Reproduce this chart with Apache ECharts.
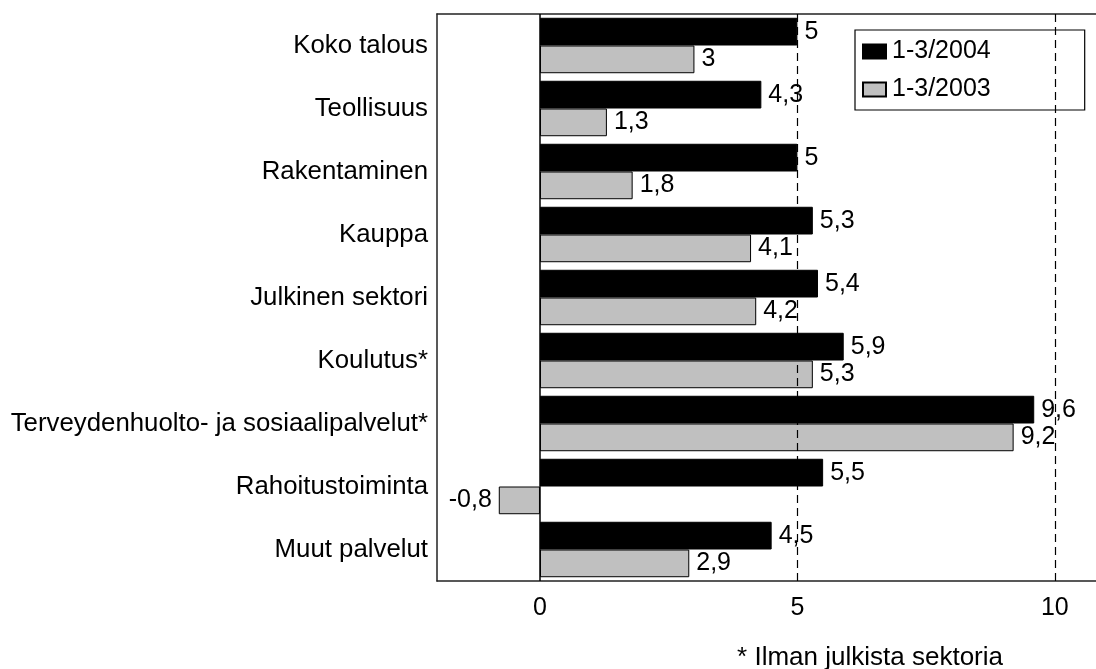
<!DOCTYPE html>
<html>
<head>
<meta charset="utf-8">
<script src="https://cdn.jsdelivr.net/npm/echarts@6/dist/echarts.min.js"></script>
<style>
  html, body { margin: 0; padding: 0; background: #fff; }
  #chart { width: 1096px; height: 669px; }
</style>
</head>
<body>
<div id="chart"></div>
<script>
// toimialat ylhäältä alas
const categories = [
  "Koko talous",
  "Teollisuus",
  "Rakentaminen",
  "Kauppa",
  "Julkinen sektori",
  "Koulutus*",
  "Terveydenhuolto- ja sosiaalipalvelut*",
  "Rahoitustoiminta",
  "Muut palvelut",
];
const values2004 = [5, 4.3, 5, 5.3, 5.4, 5.9, 9.6, 5.5, 4.5];
const values2003 = [3, 1.3, 1.8, 4.1, 4.2, 5.3, 9.2, -0.8, 2.9];
const tickValues = [0, 5, 10];
const dashedLines = [5, 10];
const footnote = "* Ilman julkista sektoria";

const font = "Liberation Sans, Arial, sans-serif";

function fmt(v) {
  return String(v).replace(".", ",");
}

// negatiivinen arvo: label vasemmalle
function toData(arr) {
  return arr.map((v) =>
    v < 0 ? { value: v, label: { position: "left" } } : v
  );
}

const chart = echarts.init(document.getElementById("chart"));

const barLabel = {
  show: true,
  position: "right",
  distance: 7,
  color: "#000",
  fontSize: 25,
  fontFamily: font,
  formatter: (p) => fmt(p.value),
};

const frameLine = { show: true, onZero: false, lineStyle: { color: "#222", width: 1.5 } };

const option = {
  animation: false,
  textStyle: { fontFamily: font, color: "#000" },
  grid: {
    left: 437,
    top: 14,
    bottom: 88,
    right: 0,
  },
  legend: {
    data: ["1-3/2004", "1-3/2003"],
    orient: "vertical",
    left: 855,
    top: 30,
    itemWidth: 23,
    itemHeight: 14,
    itemGap: 13,
    padding: [9, 94, 8, 7],
    borderColor: "#000",
    borderWidth: 1.2,
    backgroundColor: "#fff",
    icon: "rect",
    textStyle: { fontSize: 25, fontFamily: font, color: "#000", padding: [0, 0, 0, 1] },
  },
  xAxis: [
    {
      type: "value",
      min: -2,
      max: 10.8,
      position: "bottom",
      axisLine: frameLine,
      axisTick: { show: false },
      splitLine: { show: false },
      axisLabel: {
        customValues: tickValues,
        margin: 15,
        fontSize: 25,
        fontFamily: font,
        color: "#000",
      },
    },
    {
      // yläreuna
      type: "value",
      min: -2,
      max: 10.8,
      position: "top",
      axisLine: frameLine,
      axisTick: { show: false },
      axisLabel: { show: false },
      splitLine: { show: false },
    },
  ],
  yAxis: {
    type: "category",
    data: categories,
    inverse: true,
    axisLine: frameLine,
    axisTick: { show: false },
    axisLabel: {
      margin: 9,
      fontSize: 25.8,
      fontFamily: font,
      color: "#000",
    },
  },
  series: [
    {
      // apuviivat palkkien taakse
      name: "grid",
      type: "line",
      data: [],
      z: 1,
      markLine: {
        silent: true,
        symbol: "none",
        label: { show: false },
        lineStyle: { color: "#000", type: [8, 5], width: 1.2 },
        data: dashedLines.map((x) => ({ xAxis: x })),
      },
    },
    {
      name: "1-3/2004",
      type: "bar",
      z: 3,
      data: toData(values2004),
      barGap: "0%",
      barCategoryGap: "12%",
      itemStyle: { color: "#000", borderColor: "#000", borderWidth: 1 },
      label: barLabel,
    },
    {
      name: "1-3/2003",
      type: "bar",
      z: 3,
      data: toData(values2003),
      itemStyle: { color: "#c0c0c0", borderColor: "#000", borderWidth: 1 },
      label: barLabel,
      markLine: {
        silent: true,
        symbol: "none",
        label: { show: false },
        lineStyle: { color: "#000", type: "solid", width: 1.5 },
        data: [{ xAxis: 0 }],
      },
    },
  ],
  graphic: [
    {
      type: "text",
      right: 93,
      top: 645,
      style: { text: footnote, fontSize: 26, fontFamily: font, fill: "#000" },
    },
  ],
};

chart.setOption(option);
</script>
</body>
</html>
